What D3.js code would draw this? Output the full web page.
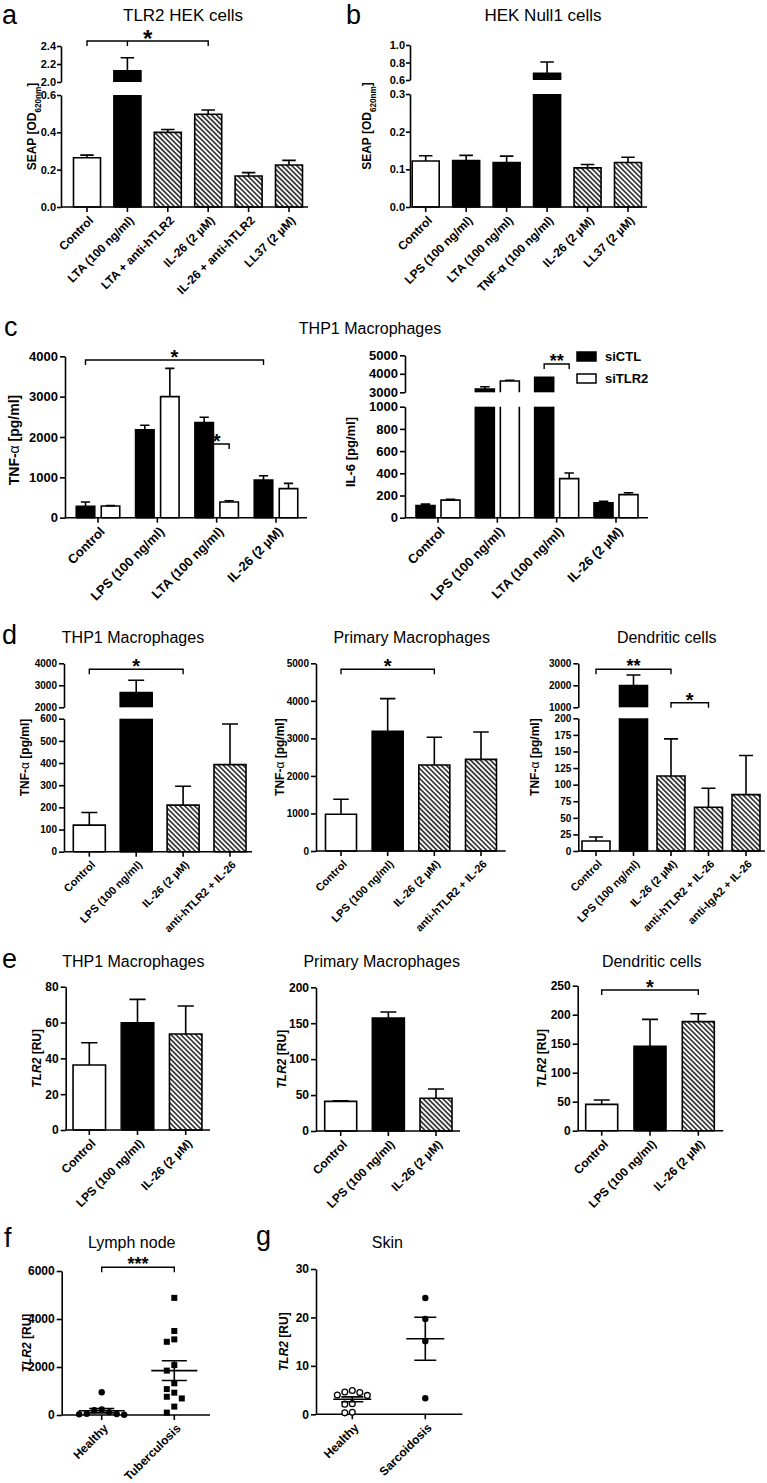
<!DOCTYPE html>
<html><head><meta charset="utf-8">
<script src="https://cdn.jsdelivr.net/npm/d3@7"></script>
<style>body{margin:0;background:#fff} svg{display:block}</style>
</head><body><svg id="c" width="767" height="1483"></svg>
<script>
// ---------------- DATA ----------------
// Panel a: TLR2 HEK cells
const aCats = ["Control","LTA (100 ng/ml)","LTA + anti-hTLR2","IL-26 (2 µM)","IL-26 + anti-hTLR2","LL37 (2 µM)"];
const aVals = [0.264, 2.125, 0.40, 0.497, 0.166, 0.225];
const aErr  = [0.278, 2.27, 0.415, 0.52, 0.184, 0.25];
const aTicksLow = [0, 0.2, 0.4, 0.6], aTicksHigh = [2.0, 2.2, 2.4];
// Panel b: HEK Null1 cells
const bCats = ["Control","LPS (100 ng/ml)","LTA (100 ng/ml)","TNF-α (100 ng/ml)","IL-26 (2 µM)","LL37 (2 µM)"];
const bVals = [0.122, 0.123, 0.118, 0.676, 0.104, 0.118];
const bErr  = [0.136, 0.137, 0.135, 0.806, 0.113, 0.132];
const bTicksLow = [0, 0.1, 0.2, 0.3], bTicksHigh = [0.6, 0.8, 1.0];
// Panel c: THP1 macrophages, siCTL / siTLR2
const cCats = ["Control","LPS (100 ng/ml)","LTA (100 ng/ml)","IL-26 (2 µM)"];
const cSeries = ["siCTL","siTLR2"];
const cTnfCtl = [280, 2180, 2360, 930],  cTnfCtlErr = [390, 2290, 2490, 1040];
const cTnfTlr = [290, 3000, 390, 720],   cTnfTlrErr = [300, 3700, 420, 850];
const cTnfTicks = [0, 1000, 2000, 3000, 4000];
const cIl6Ctl = [110, 3180, 3810, 135],  cIl6CtlErr = [122, 3300, 3810, 148];
const cIl6Tlr = [158, 3610, 352, 208],   cIl6TlrErr = [165, 3650, 403, 225];
const cIl6TicksLow = [0, 200, 400, 600, 800, 1000], cIl6TicksHigh = [3000, 4000, 5000];
// Panel d: TNF-α
const dCats4 = ["Control","LPS (100 ng/ml)","IL-26 (2 µM)","anti-hTLR2 + IL-26"];
const dCats5 = ["Control","LPS (100 ng/ml)","IL-26 (2 µM)","anti-hTLR2 + IL-26","anti-IgA2 + IL-26"];
const d1Vals = [120, 2670, 210, 393],  d1Err = [177, 3230, 295, 576];
const d1TicksLow = [0,100,200,300,400,500,600], d1TicksHigh = [2000,3000,4000];
const d2Vals = [980, 3190, 2290, 2440], d2Err = [1380, 4060, 3030, 3170];
const d2Ticks = [0,1000,2000,3000,4000,5000];
const d3Vals = [15, 1990, 113, 66, 85], d3Err = [21, 2470, 169, 94.5, 144];
const d3TicksLow = [0,25,50,75,100,125,150,175,200], d3TicksHigh = [1000,2000,3000];
// Panel e: TLR2 mRNA
const eCats = ["Control","LPS (100 ng/ml)","IL-26 (2 µM)"];
const e1Vals = [36.3, 59.9, 53.6],  e1Err = [48.7, 72.9, 69.2];  const e1Ticks = [0,20,40,60,80];
const e2Vals = [41.3, 157.3, 45.5], e2Err = [42.2, 165.7, 58.5]; const e2Ticks = [0,50,100,150,200];
const e3Vals = [45.4, 145.4, 188],  e3Err = [52.9, 192, 201.7];  const e3Ticks = [0,50,100,150,200,250];
// Panel f: Lymph node
const fCats = ["Healthy","Tuberculosis"];
const fHealthy = [950, 40, 50, 10, 30, 200, 120, 230];
const fTb = [4880, 3500, 3050, 3150, 2080, 1850, 1320, 1080, 930, 760, 690, 350, 100];
const fMean = [180, 1850], fSem = [90, 410];
const fTicks = [0, 2000, 4000, 6000];
// Panel g: Skin
const gCats = ["Healthy","Sarcoidosis"];
const gHealthy = [4.9, 4.6, 4.5, 4.0, 3.9, 2.2, 2.1, 0.3, 0.4];
const gSarc = [24.0, 19.7, 15.1, 3.3];
const gMean = [3.1, 15.6], gSem = [0.5, 4.45];
const gTicks = [0, 10, 20, 30];

// ---------------- DRAWING ----------------
const FONT = "'Liberation Sans', Arial, Helvetica, sans-serif";
const svg = d3.select("#c");
svg.append("rect").attr("width",767).attr("height",1483).attr("fill","#fff");
const defs = svg.append("defs");
const pat = defs.append("pattern").attr("id","hatch").attr("patternUnits","userSpaceOnUse")
  .attr("width",3.5).attr("height",3.5).attr("patternTransform","rotate(-45)");
pat.append("rect").attr("width",3.5).attr("height",3.5).attr("fill","#fff");
pat.append("line").attr("x1",1.75).attr("x2",1.75).attr("y1",-1).attr("y2",5).attr("stroke","#000").attr("stroke-width",1.35);
const FILL = {white:"#fff", black:"#000", hatch:"url(#hatch)"};
const SW = 1.6;

function text(g, x, y, str, o={}) {
  return g.append("text").attr("x",x).attr("y",y).text(str)
    .style("font-family",FONT).style("font-size",(o.fs||12)+"px")
    .style("font-weight",o.bold?"bold":"normal").attr("text-anchor",o.anchor||"start").attr("fill","#000");
}
function letter(x,y,s){ text(svg,x,y,s,{fs:27}); }
function title(x,y,s,fs){ text(svg,x,y,s,{fs:fs||16,anchor:"middle"}); }

function styleAxis(ag, fs){
  ag.attr("font-family",FONT).attr("font-size",fs);
  ag.select(".domain").attr("stroke","#000").attr("stroke-width",SW);
  ag.selectAll(".tick line").attr("stroke","#000").attr("stroke-width",SW);
  ag.selectAll(".tick text").attr("fill","#000").style("font-size",fs+"px").style("font-weight","bold").style("font-family",FONT);
}

function yLabel(g, x, y, parts, fs){
  const t = g.append("text").attr("transform",`translate(${x},${y}) rotate(-90)`).attr("text-anchor","middle")
    .attr("dy","0.35em").style("font-family",FONT).style("font-size",fs+"px").style("font-weight","bold").attr("fill","#000");
  parts.forEach(p => {
    const ts = t.append("tspan").text(p.t);
    if (p.italic) ts.style("font-style","italic");
    if (p.normal) ts.style("font-weight","normal");
    if (p.sub) ts.style("font-size",(fs*0.68)+"px").attr("baseline-shift","sub");
  });
}

function xLabels(g, x, cats, base, fs){
  cats.forEach(c => {
    g.append("text").attr("transform",`translate(${x(c)+1},${base+8}) rotate(-45)`)
      .attr("text-anchor","end").attr("dy","0.72em").text(c)
      .style("font-family",FONT).style("font-size",fs+"px").style("font-weight","bold").attr("fill","#000");
  });
}

function bracket(g, x1, x2, y, label, fs, mids){
  g.append("path").attr("d",`M${x1},${y+5}V${y}H${x2}V${y+5}`).attr("fill","none").attr("stroke","#000").attr("stroke-width",1.4);
  (mids||[]).forEach(m => g.append("line").attr("x1",m).attr("x2",m).attr("y1",y).attr("y2",y+5).attr("stroke","#000").attr("stroke-width",1.4));
  text(g,(x1+x2)/2, y + 0.55*fs - 7, label, {fs:fs, bold:true, anchor:"middle"});
}

// generic bar panel with optional broken y axis
function barPanel(o){
  const g = svg.append("g");
  const segs = o.segs.map(s => Object.assign({}, s, {y: d3.scaleLinear().domain(s.dom).range(s.rng)}));
  const base = segs[0].rng[0];
  segs.forEach(s => {
    const ax = d3.axisLeft(s.y).tickValues(s.ticks).tickSize(o.tk || 5).tickSizeOuter(0).tickPadding(o.tp == null ? 2 : o.tp)
      .tickFormat(d3.format(s.fmt || "d"));
    styleAxis(g.append("g").attr("transform",`translate(${o.ax},0)`).call(ax), o.fs);
  });
  const x = d3.scalePoint().domain(o.cats).range(o.xr);
  // bars
  o.series.forEach(ser => {
    ser.vals.forEach((v,i) => {
      const cx = x(o.cats[i]) + (ser.off || 0), bw = o.bw, x0 = cx - bw/2, x1 = cx + bw/2;
      const fill = FILL[ser.fill[i]];
      segs.forEach((s,si) => {
        if (v <= s.dom[0]) return;
        const top = Math.min(v, s.dom[1]);
        const yb = s.y(s.dom[0]), yt = s.y(top);
        g.append("rect").attr("x",x0).attr("y",yt).attr("width",bw).attr("height",yb-yt).attr("fill",fill);
        const closedTop = v <= s.dom[1];
        let d = `M${x0},${yb}V${yt}` + (closedTop ? `H${x1}` : `M${x1},${yt}`) + `V${yb}`;
        if (si === 0) d += `H${x0}`;
        g.append("path").attr("d",d).attr("fill","none").attr("stroke","#000").attr("stroke-width",SW);
      });
      const e = ser.err[i];
      if (e > v) {
        const s = segs.find(s => v >= s.dom[0] && v <= s.dom[1]) || segs[0];
        const ya = s.y(v), yb = s.y(e), cw = o.cap || bw*0.5;
        g.append("path").attr("d",`M${cx},${ya}V${yb}M${cx-cw/2},${yb}H${cx+cw/2}`)
          .attr("fill","none").attr("stroke","#000").attr("stroke-width",SW);
      }
    });
  });
  // x axis
  g.append("line").attr("x1",o.ax).attr("x2",o.axEnd).attr("y1",base).attr("y2",base).attr("stroke","#000").attr("stroke-width",SW);
  o.cats.forEach(c => g.append("line").attr("x1",x(c)).attr("x2",x(c)).attr("y1",base).attr("y2",base+5).attr("stroke","#000").attr("stroke-width",SW));
  xLabels(g, x, o.cats, base, o.xfs || o.fs);
  const ymid = o.yly != null ? o.yly : (segs[0].rng[0] + segs[segs.length-1].rng[1]) / 2;
  yLabel(g, o.ylx, ymid, o.ylab, o.ylfs || o.fs);
  (o.brackets || []).forEach(b => {
    const bx = k => x(o.cats[k[0]]) + (k[1] || 0);
    bracket(g, bx(b.a), bx(b.b), b.y, b.t, b.fs || 18, (b.mid||[]).map(bx));
  });
  return {g, x, segs};
}

// ---- Panel a
letter(2, 24, "a"); title(183, 21, "TLR2 HEK cells", 17);
barPanel({ax:61, axEnd:308, xr:[87,289], bw:27, fs:11, xfs:12, tk:4, tp:1, cats:aCats,
  segs:[{dom:[0,0.6], rng:[207,95], ticks:aTicksLow, fmt:".1f"},{dom:[2.0,2.4], rng:[82,46], ticks:aTicksHigh, fmt:".1f"}],
  series:[{vals:aVals, err:aErr, fill:["white","black","hatch","hatch","hatch","hatch"]}],
  ylx:32, ylfs:12, ylab:[{t:"SEAP [OD"},{t:"620nm",sub:true},{t:"]"}],
  brackets:[{a:[0],b:[3],y:41,t:"*",fs:24,mid:[[1]]}]});

// ---- Panel b
letter(346, 24, "b"); title(543, 21, "HEK Null1 cells", 17);
barPanel({ax:410, axEnd:647, xr:[425.7,628], bw:27, fs:11, xfs:12, tk:4, tp:1, cats:bCats,
  segs:[{dom:[0,0.3], rng:[207,94], ticks:bTicksLow, fmt:".1f"},{dom:[0.6,1.0], rng:[80,45], ticks:bTicksHigh, fmt:".1f"}],
  series:[{vals:bVals, err:bErr, fill:["white","black","black","black","hatch","hatch"]}],
  ylx:367, ylfs:12, ylab:[{t:"SEAP [OD"},{t:"620nm",sub:true},{t:"]"}]});

// ---- Panel c
letter(4, 336, "c"); title(370, 334, "THP1 Macrophages", 16);
const cOff = d3.scalePoint().domain(cSeries).range([-12.5, 12.5]);
barPanel({ax:65, axEnd:307, xr:[98,276], bw:18.5, fs:13, cats:cCats,
  segs:[{dom:[0,4000], rng:[517.7,356.3], ticks:cTnfTicks}],
  series:[{vals:cTnfCtl, err:cTnfCtlErr, off:cOff("siCTL"), fill:cCats.map(()=>"black")},
          {vals:cTnfTlr, err:cTnfTlrErr, off:cOff("siTLR2"), fill:cCats.map(()=>"white")}],
  ylx:14, ylfs:14, yly:440, ylab:[{t:"TNF-"},{t:"α",normal:true},{t:" [pg/ml]"}],
  brackets:[{a:[0,cOff("siCTL")], b:[3,cOff("siCTL")], y:360, t:"*", fs:20},
            {a:[2,cOff("siCTL")], b:[2,cOff("siTLR2")], y:444, t:"*", fs:20}]});
barPanel({ax:405, axEnd:648, xr:[438,616], bw:19, fs:13, cats:cCats,
  segs:[{dom:[0,1000], rng:[517.7,406.7], ticks:cIl6TicksLow},{dom:[3000,5000], rng:[392.3,355.3], ticks:cIl6TicksHigh}],
  series:[{vals:cIl6Ctl, err:cIl6CtlErr, off:cOff("siCTL"), fill:cCats.map(()=>"black")},
          {vals:cIl6Tlr, err:cIl6TlrErr, off:cOff("siTLR2"), fill:cCats.map(()=>"white")}],
  ylx:350, ylfs:13, yly:452, ylab:[{t:"IL-6 [pg/ml]"}],
  brackets:[{a:[2,cOff("siCTL")], b:[2,cOff("siTLR2")], y:364, t:"**", fs:18}]});
// legend
const lg = svg.append("g");
cSeries.forEach((s,i) => {
  lg.append("rect").attr("x",577).attr("y",352 + i*22).attr("width",19).attr("height",9)
    .attr("fill", i===0 ? "#000" : "#fff").attr("stroke","#000").attr("stroke-width",1.5);
  text(lg, 605, 361 + i*22, s, {fs:13, bold:true});
});

// ---- Panel d
letter(2, 644, "d");
title(133, 643, "THP1 Macrophages"); title(411.7, 643, "Primary Macrophages"); title(666.7, 643, "Dendritic cells");
const dFill4 = ["white","black","hatch","hatch"], dFill5 = ["white","black","hatch","hatch","hatch"];
const tnfLab = [{t:"TNF-"},{t:"α",normal:true},{t:"  [pg/ml]"}];
barPanel({ax:64, axEnd:252, xr:[89.3,230], bw:32, fs:10, xfs:11, cats:dCats4,
  segs:[{dom:[0,600], rng:[851.7,718.7], ticks:d1TicksLow},{dom:[2000,4000], rng:[707.3,663.3], ticks:d1TicksHigh}],
  series:[{vals:d1Vals, err:d1Err, fill:dFill4}], ylx:25, ylfs:12, ylab:tnfLab,
  brackets:[{a:[0],b:[2],y:669.3,t:"*",fs:20}]});
barPanel({ax:316, axEnd:505.7, xr:[341,481], bw:31, fs:10, xfs:11, cats:dCats4,
  segs:[{dom:[0,5000], rng:[851,663.3], ticks:d2Ticks}],
  series:[{vals:d2Vals, err:d2Err, fill:dFill4}], ylx:280, ylfs:12, ylab:tnfLab,
  brackets:[{a:[0],b:[2],y:669.3,t:"*",fs:20}]});
barPanel({ax:578.3, axEnd:765, xr:[596,746], bw:28, fs:10, xfs:11, cats:dCats5,
  segs:[{dom:[0,200], rng:[851,718.3], ticks:d3TicksLow},{dom:[1000,3000], rng:[707.3,663.3], ticks:d3TicksHigh}],
  series:[{vals:d3Vals, err:d3Err, fill:dFill5}], ylx:535, ylfs:12, ylab:tnfLab,
  brackets:[{a:[0],b:[2],y:669.3,t:"**",fs:18},{a:[2],b:[3],y:702.7,t:"*",fs:20}]});

// ---- Panel e
letter(2, 968, "e");
title(133.3, 966.7, "THP1 Macrophages"); title(381.7, 966.7, "Primary Macrophages"); title(651.7, 966.7, "Dendritic cells");
const eFill = ["white","black","hatch"];
const tlrLab = [{t:"TLR2",italic:true},{t:" [RU]"}];
barPanel({ax:65.7, axEnd:210, xr:[89.3,185.7], bw:32.5, fs:12, cats:eCats,
  segs:[{dom:[0,80], rng:[1130,986.7], ticks:e1Ticks}], series:[{vals:e1Vals, err:e1Err, fill:eFill}],
  ylx:37, ylab:tlrLab});
barPanel({ax:316, axEnd:460, xr:[340.7,436], bw:32, fs:12, cats:eCats,
  segs:[{dom:[0,200], rng:[1131,987.3], ticks:e2Ticks}], series:[{vals:e2Vals, err:e2Err, fill:eFill}],
  ylx:281.7, ylab:tlrLab});
barPanel({ax:577.7, axEnd:723.3, xr:[601.7,698.3], bw:32, fs:12, cats:eCats,
  segs:[{dom:[0,250], rng:[1130.7,985.7], ticks:e3Ticks}], series:[{vals:e3Vals, err:e3Err, fill:eFill}],
  ylx:541.7, ylab:tlrLab, brackets:[{a:[0],b:[2],y:990,t:"*",fs:20}]});

// ---- scatter panels
function swarm(vals, y, r, step){
  const placed = [], off = new Array(vals.length);
  const order = vals.map((v,i)=>i).sort((a,b)=>vals[b]-vals[a]);
  order.forEach(i => {
    const py = y(vals[i]);
    for (let k=0; k<60; k++){
      const c = k===0 ? 0 : (k%2 ? -1 : 1) * Math.ceil(k/2) * step;
      if (placed.every(p => Math.hypot(p.x-c, p.y-py) >= 2*r)) { off[i]=c; placed.push({x:c,y:py}); break; }
    }
  });
  return off;
}
function scatterPanel(o){
  const g = svg.append("g");
  const y = d3.scaleLinear().domain(o.dom).range(o.rng);
  const ax = d3.axisLeft(y).tickValues(o.ticks).tickSize(5).tickSizeOuter(0).tickPadding(2).tickFormat(d3.format("d"));
  styleAxis(g.append("g").attr("transform",`translate(${o.ax},0)`).call(ax), 12);
  const base = o.rng[0];
  const x = d3.scalePoint().domain(o.cats).range(o.xr);
  g.append("line").attr("x1",o.ax).attr("x2",o.axEnd).attr("y1",base).attr("y2",base).attr("stroke","#000").attr("stroke-width",SW);
  o.cats.forEach(c => g.append("line").attr("x1",x(c)).attr("x2",x(c)).attr("y1",base).attr("y2",base+5).attr("stroke","#000").attr("stroke-width",SW));
  xLabels(g, x, o.cats, base, 12);
  yLabel(g, o.ylx, (o.rng[0]+o.rng[1])/2, tlrLab, 12);
  o.groups.forEach((gr,gi) => {
    const cx = x(o.cats[gi]);
    const off = swarm(gr.vals, y, 3.6, 7.5);
    gr.vals.forEach((v,i) => {
      const px = cx + off[i], py = y(v);
      if (gr.shape === "square") g.append("rect").attr("x",px-3).attr("y",py-3).attr("width",6).attr("height",6).attr("fill","#000");
      else g.append("circle").attr("cx",px).attr("cy",py).attr("r", gr.open ? 2.9 : 3.2)
        .attr("fill", gr.open ? "#fff" : "#000").attr("stroke","#000").attr("stroke-width", gr.open ? 1.3 : 0);
    });
    const m = o.mean[gi], s = o.sem[gi];
    g.append("path").attr("d",`M${cx-o.mw},${y(m)}H${cx+o.mw}M${cx},${y(m-s)}V${y(m+s)}M${cx-o.cw},${y(m-s)}H${cx+o.cw}M${cx-o.cw},${y(m+s)}H${cx+o.cw}`)
      .attr("fill","none").attr("stroke","#000").attr("stroke-width",SW);
  });
  if (o.bracket) bracket(g, x(o.cats[0]), x(o.cats[1]), o.bracket.y, o.bracket.t, 18);
}
letter(4, 1247, "f"); title(131.7, 1248.3, "Lymph node");
scatterPanel({ax:61.7, axEnd:210, dom:[0,6000], rng:[1415,1271], ticks:fTicks, cats:fCats, xr:[101.7,174.3],
  groups:[{vals:fHealthy, shape:"circle"},{vals:fTb, shape:"square"}], mean:fMean, sem:fSem, mw:23, cw:12.5,
  ylx:26.7, bracket:{y:1267.3, t:"***"}});
letter(256, 1245, "g"); title(387.3, 1248.3, "Skin");
scatterPanel({ax:316, axEnd:462.3, dom:[0,30], rng:[1414.3,1269], ticks:gTicks, cats:gCats, xr:[352.3,425.3],
  groups:[{vals:gHealthy, shape:"circle", open:true},{vals:gSarc, shape:"circle"}], mean:gMean, sem:gSem, mw:19, cw:11,
  ylx:283.3});
</script></body></html>
